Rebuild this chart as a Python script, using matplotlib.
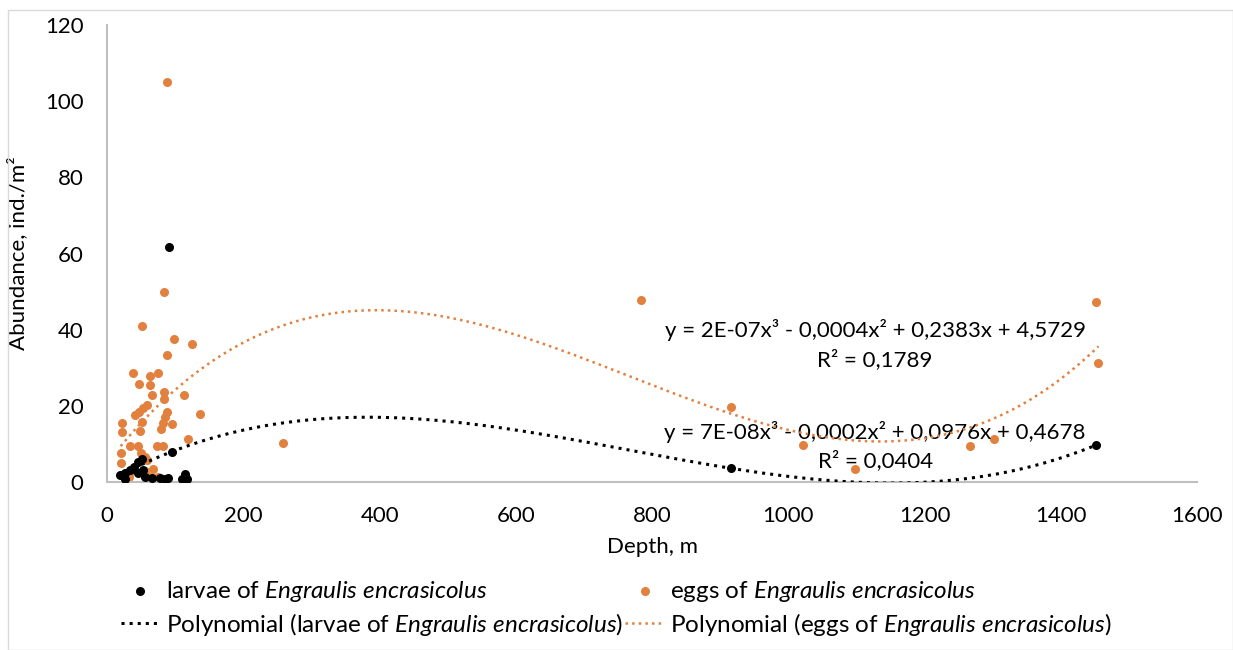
import matplotlib.pyplot as plt
import numpy as np
from matplotlib.patches import Rectangle

plt.rcParams['font.family'] = ['Lato', 'DejaVu Sans']
plt.rcParams['mathtext.fontset'] = 'custom'
plt.rcParams['mathtext.it'] = 'Lato:italic'
plt.rcParams['mathtext.rm'] = 'Lato'

# eggs of Engraulis encrasicolus: depth (m), abundance (ind./m2)
eggs_depth = [88, 83, 52, 98, 124, 88, 38, 63, 75, 47, 63, 66, 83, 113, 84,
              41, 47, 53, 58, 136, 88, 85, 82, 79, 96, 51, 48, 22, 22, 119,
              73, 82, 34, 46, 50, 55, 58, 20, 20, 34, 55, 68, 32, 62, 75, 25, 28,
              258, 783, 916, 1022, 1098, 1266, 1301, 1451, 1455]
eggs_abund = [105, 50, 41, 37.6, 36.2, 33.4, 28.6, 27.8, 28.5, 25.6, 25.4, 22.9, 23.7, 22.8, 21.7,
              17.5, 18.5, 19.5, 20.2, 17.9, 18.5, 17, 15.5, 14, 15.2, 15.8, 13.5, 15.4, 13.1, 11.3,
              9.4, 9.4, 9.4, 9.4, 7.5, 6.6, 5.7, 7.5, 4.9, 2.6, 3, 3.3, 1.2, 1.2, 1.2, 2, 1.5,
              10.2, 47.8, 19.7, 9.7, 3.4, 9.4, 11.3, 47.2, 31.2]

# larvae of Engraulis encrasicolus
larvae_depth = [19, 26, 26, 34, 39, 46, 51, 46, 53, 56, 66, 78, 85, 90, 91, 96,
                115, 110, 118, 916, 1452]
larvae_abund = [1.8, 2.3, 0.7, 3.1, 4, 5.3, 6, 2.3, 3.1, 1.4, 1.0, 1.0, 0.7, 1.0, 61.8, 7.8,
                2.1, 0.7, 0.7, 3.7, 9.7]

eq_eggs = ['y = 2E-07x³ - 0,0004x² + 0,2383x + 4,5729', 'R² = 0,1789']
eq_larvae = ['y = 7E-08x³ - 0,0002x² + 0,0976x + 0,4678', 'R² = 0,0404']

orange = '#E2803E'
gray = '#BFBFBF'

fig = plt.figure(figsize=(12.33, 6.5), dpi=100)
ax = fig.add_axes([0.0868, 0.2585, 0.8842, 0.703])
fig.patches.append(Rectangle((8 / 1233, 0), 1 - 8 / 1233, 1 - 10 / 650, transform=fig.transFigure,
                             fill=False, edgecolor='#D9D9D9', linewidth=1))

sc_l = ax.scatter(larvae_depth, larvae_abund, s=30, color='black', zorder=3,
                  label=r'larvae of $\it{Engraulis\ encrasicolus}$')
sc_e = ax.scatter(eggs_depth, eggs_abund, s=30, color=orange, zorder=2,
                  label=r'eggs of $\it{Engraulis\ encrasicolus}$')

# 3rd order polynomial trend lines (fitted like Excel does)
c_l = np.polyfit(larvae_depth, larvae_abund, 3)
xx_l = np.linspace(min(larvae_depth), max(larvae_depth), 400)
ln_l, = ax.plot(xx_l, np.polyval(c_l, xx_l), ':', color='black', lw=2.2, zorder=4,
                label=r'Polynomial (larvae of $\it{Engraulis\ encrasicolus}$)')
c_e = np.polyfit(eggs_depth, eggs_abund, 3)
xx_e = np.linspace(min(eggs_depth), max(eggs_depth), 400)
ln_e, = ax.plot(xx_e, np.polyval(c_e, xx_e), ':', color=orange, lw=1.8, zorder=4,
                label=r'Polynomial (eggs of $\it{Engraulis\ encrasicolus}$)')

# trendline equation labels (placed in axes fraction, centred near x=875 px)
tx = (875 - 107) / 1090
ax.text(tx, 40 / 120, eq_eggs[0], ha='center', va='center', fontsize=16, transform=ax.transAxes)
ax.text(tx, 32.2 / 120, eq_eggs[1], ha='center', va='center', fontsize=16, transform=ax.transAxes)
ax.text(tx, 13.2 / 120, eq_larvae[0], ha='center', va='center', fontsize=16, transform=ax.transAxes)
ax.text(tx, 5.6 / 120, eq_larvae[1], ha='center', va='center', fontsize=16, transform=ax.transAxes)

ax.set_xlim(0, 1600)
ax.set_ylim(0, 120)
ax.set_xticks(np.arange(0, 1601, 200))
ax.set_yticks(np.arange(0, 121, 20))
ax.tick_params(length=0, labelsize=16, pad=17)
for s in ['top', 'right']:
    ax.spines[s].set_visible(False)
for s in ['left', 'bottom']:
    ax.spines[s].set_color(gray)
    ax.spines[s].set_linewidth(1.5)
ax.set_xlabel('Depth, m', fontsize=16, labelpad=8)
ax.set_ylabel('Abundance, ind./m²', fontsize=16, labelpad=12)

fig.legend(handles=[sc_l, ln_l, sc_e, ln_e], ncol=2, frameon=False, fontsize=17.5,
           loc='lower center', bbox_to_anchor=(0.5, -0.015), handlelength=1.6,
           columnspacing=0.1, handletextpad=0.25, labelspacing=0.3)

fig.savefig('out.png', dpi=100)
